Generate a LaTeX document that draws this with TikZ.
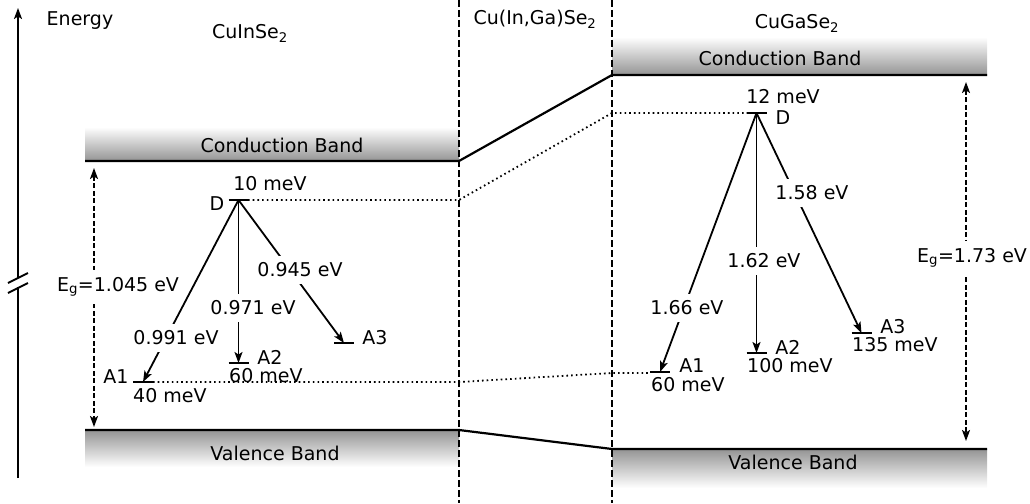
\documentclass[tikz,border=0pt]{standalone}
\usepackage{fontspec}
\setmainfont{DejaVu Sans}
\usetikzlibrary{arrows.meta}
\begin{document}
\begin{tikzpicture}[x=1pt,y=-1pt,
  font=\fontsize{19}{22}\selectfont,
  tipa/.tip={Stealth[length=11pt,width=8pt,inset=2.5pt]},
  trans/.style={line width=1.8pt,-tipa},
  lbl/.style={fill=white,inner xsep=2pt,inner ysep=7pt},
  txt/.style={inner sep=0pt},
  band/.style={line width=2.2pt},
  divider/.style={line width=1.6pt,dash pattern=on 7pt off 3pt},
  dotline/.style={line width=1.8pt,dash pattern=on 1.6pt off 3.1pt},
  level/.style={line width=2.8pt},
  gaparrow/.style={line width=1.6pt,dash pattern=on 5pt off 2.5pt,tipa-tipa},
  shadeCB/.style={top color=white,bottom color=black!42},
  shadeVB/.style={top color=black!42,bottom color=white},
]
\useasboundingbox (0,0) rectangle (1030,503);

% ---- shaded bands
\shade[shadeCB] (85,127) rectangle (459,161);
\shade[shadeVB] (85,430) rectangle (459,467);
\shade[shadeCB] (612,37) rectangle (987,75);
\shade[shadeVB] (612,449) rectangle (987,488);

% ---- band edge coordinates
\coordinate (cbL0) at (85,161);
\coordinate (cbL1) at (459,161);
\coordinate (cbR0) at (612,75);
\coordinate (cbR1) at (987,75);
\coordinate (vbL0) at (85,430);
\coordinate (vbL1) at (459,430);
\coordinate (vbR0) at (612,449);
\coordinate (vbR1) at (987,449);
\draw[band] (cbL0) -- (cbL1) -- (cbR0) -- (cbR1);
\draw[band] (vbL0) -- (vbL1) -- (vbR0) -- (vbR1);

% ---- dividers
\coordinate (dv1t) at (459,0);
\coordinate (dv1b) at (459,503);
\coordinate (dv2t) at (612,0);
\coordinate (dv2b) at (612,503);
\draw[divider] (dv1t) -- (dv1b);
\draw[divider] (dv2t) -- (dv2b);

% ---- energy axis
\coordinate (ax0) at (18,478);
\coordinate (axb1) at (18,287);
\coordinate (axb2) at (18,278);
\coordinate (ax1) at (18,8);
\draw[line width=1.8pt] (ax0) -- (axb1);
\draw[line width=1.8pt,-tipa] (axb2) -- (ax1);
\draw[line width=1.8pt] (8,293) -- (28,283);
\draw[line width=1.8pt] (8,283) -- (28,273);
\node[txt] (energy) at (80,21) {Energy};

% ---- titles
\node[txt] (cis) at (250,33) {CuInSe\textsubscript{2}};
\node[txt] (cigs) at (535,19) {Cu(In,Ga)Se\textsubscript{2}};
\node[txt] (cgs) at (797,23) {CuGaSe\textsubscript{2}};
\node[txt] (cb1) at (282,145) {Conduction Band};
\node[txt] (vb1) at (275,453) {Valence Band};
\node[txt] (cb2) at (780,58) {Conduction Band};
\node[txt] (vb2) at (793,462) {Valence Band};

% ---- levels, left
\coordinate (D1) at (238.5,200);
\coordinate (A1L) at (143,382);
\coordinate (A2L) at (238.5,363);
\coordinate (A3L) at (344,343);
% ---- levels, right
\coordinate (D2) at (756.5,113);
\coordinate (A1R) at (660,372);
\coordinate (A2R) at (756.5,353);
\coordinate (A3R) at (861.5,333);

% ---- dotted level connections
\draw[dotline] (248,200) -- (459,200) -- (612,113) -- (747,113);
\draw[dotline] (153,382) -- (459,382) -- (612,373) -- (650,373);

% ---- level ticks
\foreach \c in {D1,A1L,A2L,A3L,D2,A1R,A2R,A3R}
  \draw[level] ([xshift=-10pt]\c) -- ([xshift=10pt]\c);

% ---- transitions, left
\draw[trans] (D1) -- (A1L);
\draw[trans] (D1) -- (A2L);
\draw[trans] (D1) -- (A3L);
\node[lbl] (t1) at (176,338) {0.991 eV};
\node[lbl] (t2) at (253,308) {0.971 eV};
\node[lbl] (t3) at (300,270) {0.945 eV};

% ---- transitions, right
\draw[trans] (D2) -- (A1R);
\draw[trans] (D2) -- (A2R);
\draw[trans] (D2) -- (A3R);
\node[lbl] (t4) at (687,308) {1.66 eV};
\node[lbl] (t5) at (764,261) {1.62 eV};
\node[lbl] (t6) at (812,193) {1.58 eV};

% ---- level labels, left
\node[txt] (lD1) at (217,204) {D};
\node[txt] (eD1) at (270,184) {10 meV};
\node[txt] (lA1L) at (116,377) {A1};
\node[txt,anchor=west] (eA1L) at (133,396) {40 meV};
\node[txt] (lA2L) at (270,357) {A2};
\node[txt,anchor=west] (eA2L) at (229,376) {60 meV};
\node[txt] (lA3L) at (375,338) {A3};

% ---- level labels, right
\node[txt] (lD2) at (783,118) {D};
\node[txt] (eD2) at (783,97) {12 meV};
\node[txt] (lA1R) at (692,366) {A1};
\node[txt,anchor=west] (eA1R) at (651,385) {60 meV};
\node[txt] (lA2R) at (788,347) {A2};
\node[txt,anchor=west] (eA2R) at (747,366) {100 meV};
\node[txt] (lA3R) at (893,327) {A3};
\node[txt,anchor=west] (eA3R) at (852,345) {135 meV};

% ---- band gaps
\coordinate (gL0) at (94,168);
\coordinate (gL1) at (94,427);
\coordinate (gR0) at (966,82);
\coordinate (gR1) at (966,441);
\draw[gaparrow] (gL0) -- (gL1);
\draw[gaparrow] (gR0) -- (gR1);
\node[lbl] (egL) at (118,287) {E\textsubscript{g}=1.045 eV};
\node[lbl] (egR) at (972,258) {E\textsubscript{g}=1.73 eV};
\end{tikzpicture}
\end{document}
